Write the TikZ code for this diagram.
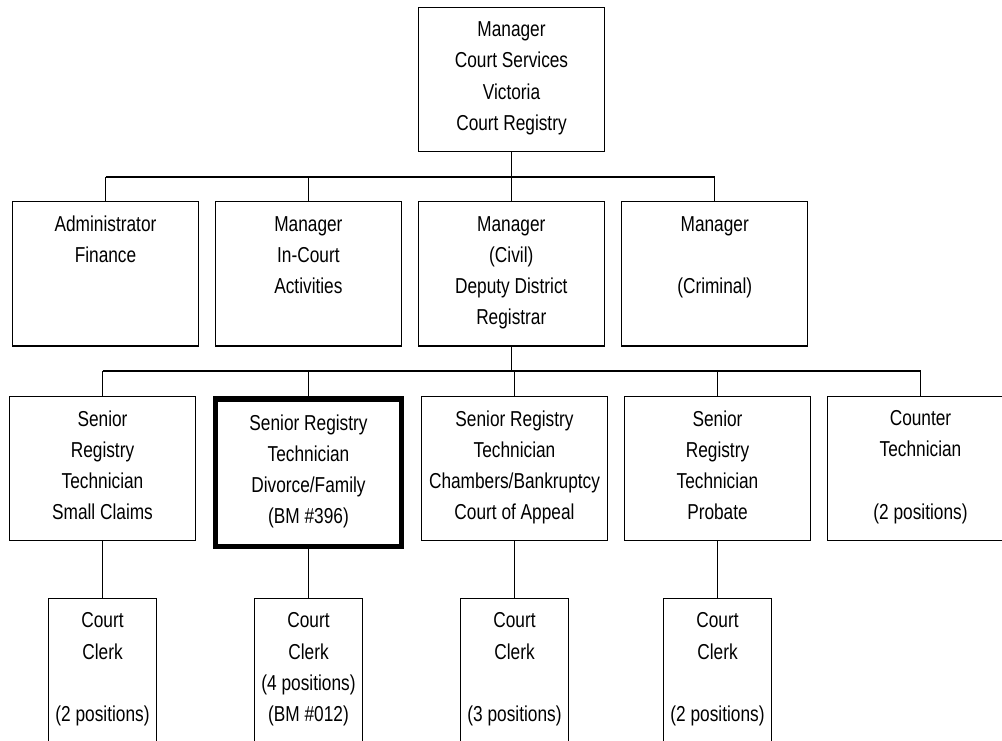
\documentclass[tikz,border=0pt]{standalone}
\usepackage{fontspec}
\setmainfont{Liberation Sans}[FakeStretch=0.8]
\newcommand\orgstrut{\rule[-5.05pt]{0pt}{23.4pt}}
\begin{document}
\begin{tikzpicture}[x=0.75pt,y=-0.75pt,
  box/.style={draw, line width=1pt, rectangle, inner sep=0pt, align=center,
    font=\fontsize{16.2pt}{23.4pt}\selectfont,
    execute at begin node=\orgstrut, execute at end node=\orgstrut,
    minimum width=139.5pt, minimum height=108.3pt},
  thickbox/.style={box, line width=4pt, minimum width=139.7pt, minimum height=110.5pt},
  clerk/.style={box, minimum width=81pt, minimum height=108pt},
  busline/.style={line width=1.6pt},
  link/.style={line width=0.8pt}]
\clip (0,0) rectangle (1002,740);
% top
\node[box] (top) at (511.5,79.5) {Manager\\Court Services\\Victoria\\Court Registry};
% row 2
\node[box] (admin) at (105.5,273.9) {Administrator\\Finance\\~\\~};
\node[box] (inc) at (308.4,273.9) {Manager\\In-Court\\Activities\\~};
\node[box] (civ) at (511.3,273.9) {Manager\\(Civil)\\Deputy District\\Registrar};
\node[box] (crim) at (714.7,273.9) {Manager\\~\\(Criminal)\\~};
% row 3
\node[box] (sc) at (102.5,468.4) {Senior\\Registry\\Technician\\Small Claims};
\node[thickbox] (div) at (308.5,472.6) {Senior Registry\\Technician\\Divorce/Family\\(BM \#396)};
\node[box] (ch) at (514.5,468.4) {Senior Registry\\Technician\\Chambers/Bankruptcy\\Court of Appeal};
\node[box] (pr) at (717.5,468.4) {Senior\\Registry\\Technician\\Probate};
\node[box] (cnt) at (920.5,468.4) {Counter\\Technician\\~\\(2 positions)};
% row 4
\node[clerk] (k1) at (102.5,670.5) {Court\\Clerk\\~\\(2 positions)};
\node[clerk] (k2) at (308.5,670.5) {Court\\Clerk\\(4 positions)\\(BM \#012)};
\node[clerk] (k3) at (514.5,670.5) {Court\\Clerk\\~\\(3 positions)};
\node[clerk] (k4) at (717.5,670.5) {Court\\Clerk\\~\\(2 positions)};
% connectors
\coordinate (bus1) at (0,176.7);
\coordinate (bus2) at (0,370.7);
\draw[busline] (admin.north |- bus1) -- (crim.north |- bus1);
\draw[link] (top.south) -- (top.south |- bus1);
\foreach \n in {admin,inc,civ,crim} \draw[link] (\n.north) -- (\n.north |- bus1);
\draw[busline] (sc.north |- bus2) -- (cnt.north |- bus2);
\draw[link] (civ.south) -- (civ.south |- bus2);
\foreach \n in {sc,div,ch,pr,cnt} \draw[link] (\n.north) -- (\n.north |- bus2);
\foreach \a/\b in {sc/k1,div/k2,ch/k3,pr/k4} \draw[link] (\a.south) -- (\b.north);
\end{tikzpicture}
\end{document}
